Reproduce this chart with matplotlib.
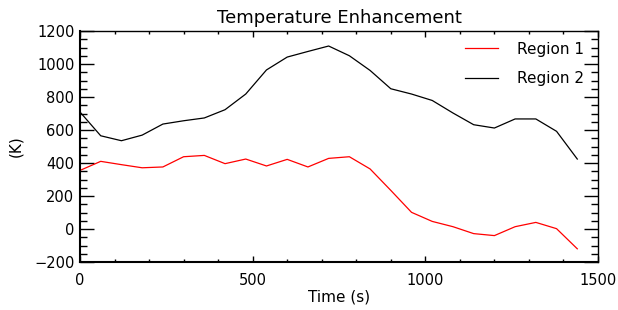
import matplotlib
matplotlib.use("Agg")
from matplotlib import pyplot as plt
from matplotlib.ticker import MultipleLocator

# time samples (s), one every 60 s
time_s = [0, 60, 120, 180, 240, 300, 360, 420, 480, 540, 600, 660, 720,
          780, 840, 900, 960, 1020, 1080, 1140, 1200, 1260, 1320, 1380, 1440]

# temperature enhancement (K)
region1 = [355, 410, 390, 371, 376, 438, 446, 396, 424, 382, 422, 376, 428,
           438, 364, 234, 101, 46, 14, -28, -40, 14, 40, 2, -120]
region2 = [709, 565, 535, 569, 636, 656, 673, 723, 818, 964, 1042, 1076, 1109,
           1050, 961, 850, 818, 779, 703, 632, 612, 667, 667, 592, 424]

labels = ["Region 1", "Region 2"]
colors = ["#ff0000", "#000000"]

fig = plt.figure(figsize=(6.18, 3.10), dpi=100)
ax = fig.add_axes([80/618, 1 - 262/310, 518/618, 231/310])

for vals, lab, col in zip([region1, region2], labels, colors):
    ax.plot(time_s, vals, color=col, lw=0.9, label=lab)

ax.set_xlim(0, 1500)
ax.set_ylim(-200, 1200)

# IDL style ticks: inward, on all four sides
ax.xaxis.set_major_locator(MultipleLocator(500))
ax.xaxis.set_minor_locator(MultipleLocator(100))
ax.yaxis.set_major_locator(MultipleLocator(200))
ax.yaxis.set_minor_locator(MultipleLocator(50))
ax.tick_params(axis="x", which="major", direction="in", length=4.5, width=1,
               top=True, labelsize=10.5, pad=8)
ax.tick_params(axis="x", which="minor", direction="in", length=2.3, width=1, top=True)
ax.tick_params(axis="y", which="major", direction="in", length=10, width=1,
               right=True, labelsize=10.5, pad=4)
ax.tick_params(axis="y", which="minor", direction="in", length=5, width=1, right=True)

for side, sp in ax.spines.items():
    sp.set_linewidth(1.5 if side in ("left", "bottom") else 1.0)

ax.set_title("Temperature Enhancement", fontsize=13, pad=6)
ax.set_xlabel("Time (s)", fontsize=11, labelpad=1)
ax.set_ylabel("(K)", fontsize=11, labelpad=8)

leg = ax.legend(loc="upper left", frameon=False, fontsize=11,
                handlelength=2.2, handletextpad=1.2, labelspacing=0.95,
                borderaxespad=0.3, bbox_to_anchor=(0.722, 1.0))

plt.savefig("out.png", dpi=100)
